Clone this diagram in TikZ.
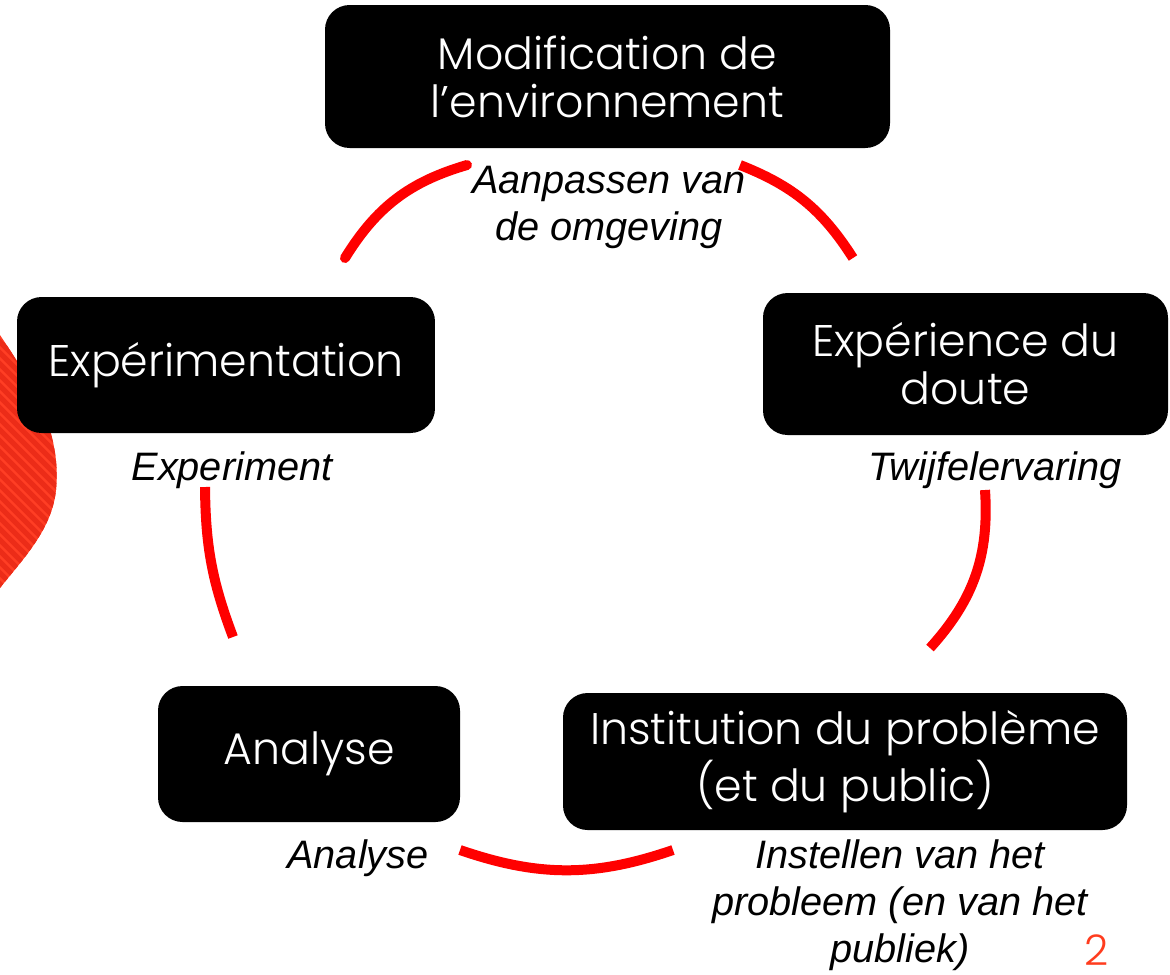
\documentclass[tikz,border=0pt]{standalone}
\usepackage{fontspec}
\newfontfamily\boxfont{Poppins Light}
\newfontfamily\labelfont{Liberation Sans}
\definecolor{loopred}{RGB}{255,0,0}
\definecolor{blobred}{RGB}{255,62,36}
\definecolor{stripered}{RGB}{236,44,24}
\definecolor{pagered}{RGB}{255,60,30}

\begin{document}
\begin{tikzpicture}[x=0.1mm, y=-0.1mm,
		stage/.style={fill=black, rounded corners=7pt, text=white, align=center, inner sep=0pt,
			font=\boxfont\fontsize{12.6}{13.7}\selectfont},
		gloss/.style={align=center, inner sep=0pt, font=\labelfont\itshape\fontsize{11.3}{13.4}\selectfont},
		loop/.style={draw=loopred, line width=1mm}]
		\useasboundingbox (0,0) rectangle (1170,974);
		
		% striped shape on the left edge
		\begin{scope}
			\clip (0,335) .. controls (30,380) and (62,430) .. (56,490)
			.. controls (52,530) and (22,560) .. (0,588) -- cycle;
			\fill[blobred] (0,300) rectangle (80,620);
			\foreach \k in {0,...,40}
			\draw[stripered, line width=1.5pt] (-10,200+\k*11) -- (90,300+\k*11);
		\end{scope}
		
		\node[stage, minimum width=5.65cm, minimum height=1.43cm] (modif) at (607.5,76.5) {Modification de\\l’environnement};
		\node[stage, minimum width=4.18cm, minimum height=1.36cm] (exper) at (226,365) {Expérimentation};
		\node[stage, minimum width=4.05cm, minimum height=1.42cm] (doute) at (965.5,364) {Expérience du\\doute};
		\node[stage, minimum width=3.02cm, minimum height=1.36cm] (analyse) at (309,754) {Analyse};
		\node[stage, minimum width=5.64cm, minimum height=1.37cm] (instit) at (845,761.5) {Institution du problème\\(et du public)};
		
		\node[gloss] (modifnl) at (609,207) {Aanpassen van\\de omgeving};
		\node[gloss] (expernl) at (232,470) {Experiment};
		\node[gloss] (doutenl) at (995,470) {Twijfelervaring};
		\node[gloss] (analysenl) at (358,858) {Analyse};
		\node[gloss] (institnl) at (900,905) {Instellen van het\\probleem (en van het\\publiek)};
		
		\node[text=pagered, inner sep=0pt, font=\boxfont\fontsize{12}{14}\selectfont] (pagenr) at (1097,950) {2};
		
		% the loop
		\coordinate (tla) at (345,258);
		\coordinate (tlb) at (467,165);
		\coordinate (tra) at (740,165);
		\coordinate (trb) at (853,258);
		\coordinate (ra) at (985,490);
		\coordinate (rb) at (930,648);
		\coordinate (ba) at (673,850);
		\coordinate (bb) at (460,850);
		\coordinate (la) at (233,637);
		\coordinate (lb) at (205,487);
		
		\draw[loop, line cap=round] (tla) to[bend left=21] (tlb);
		\draw[loop] (tra) to[bend left=18] (trb);
		\draw[loop] (ra) to[bend left=23] (rb);
		\draw[loop] (ba) to[bend left=19] (bb);
		\draw[loop] (la) to[bend left=10] (lb);
	\end{tikzpicture}
\end{document}
